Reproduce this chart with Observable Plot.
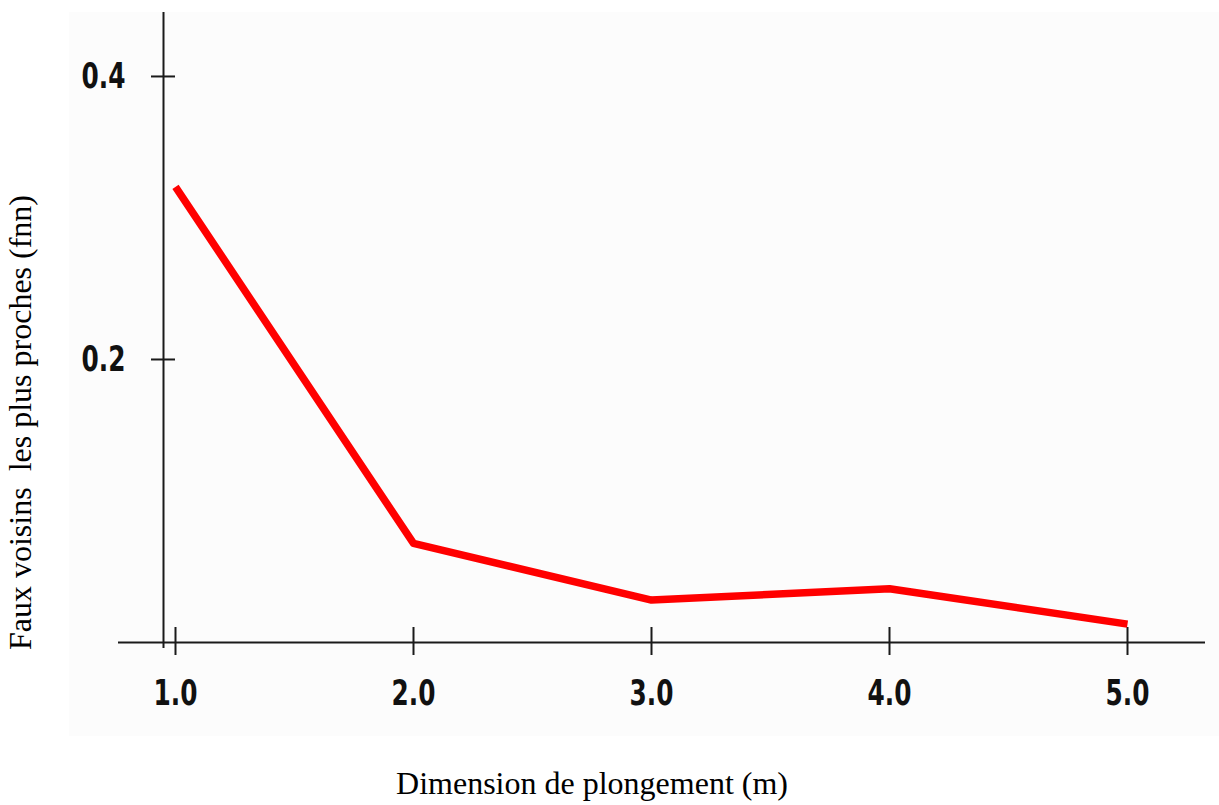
<!DOCTYPE html>
<html>
<head>
<meta charset="utf-8">
<script src="https://cdn.jsdelivr.net/npm/d3@7"></script>
<script src="https://cdn.jsdelivr.net/npm/@observablehq/plot@0.6"></script>
<style>
  html, body { margin: 0; padding: 0; background: #ffffff; }
  #chart svg { display: block; white-space: pre; }
</style>
</head>
<body>
<div id="chart"></div>
<script>
// ---- data ----
const dimensions = [1, 2, 3, 4, 5];
const fnnValues = [0.322, 0.070, 0.030, 0.038, 0.013];
const xTicks = [1, 2, 3, 4, 5];
const xTickLabels = ["1.0", "2.0", "3.0", "4.0", "5.0"];
const yTicks = [0.2, 0.4];
const yTickLabels = ["0.2", "0.4"];
const xTitle = "Dimension de plongement (m)";
const yTitle = "Faux voisins  les plus proches (fnn)";

const data = dimensions.map((d, i) => ({m: d, fnn: fnnValues[i]}));
const xTickData = xTicks.map((v, i) => ({v, label: xTickLabels[i]}));
const yTickData = yTicks.map((v, i) => ({v, label: yTickLabels[i]}));

const W = 1219, H = 805;
const mL = 118, mR = 14, mT = 12, mB = 157;
const xDomain = [0.7605, 5.3277];
const yDomain = [-0.00424, 0.4452];
const yAxisAt = 0.9496;   // position of vertical axis line (x units)
const tickFont = "'DejaVu Sans', sans-serif";
const titleFont = "'Liberation Serif', 'Times New Roman', serif";

const chart = Plot.plot({
  width: W,
  height: H,
  marginLeft: mL,
  marginRight: mR,
  marginTop: mT,
  marginBottom: mB,
  x: {domain: xDomain, axis: null},
  y: {domain: yDomain, axis: null},
  style: {background: "transparent", overflow: "visible"},
  marks: [
    // axis lines
    Plot.ruleY([0], {stroke: "#1a1a1a", strokeWidth: 2}),
    Plot.ruleX([yAxisAt], {stroke: "#1a1a1a", strokeWidth: 2}),
    // x ticks crossing the axis
    Plot.ruleX(xTickData, {x: "v", y1: -0.0092, y2: 0.0106, stroke: "#1a1a1a", strokeWidth: 2}),
    // y ticks crossing the axis
    Plot.ruleY(yTickData, {y: "v", x1: 0.8992, x2: 1.0, stroke: "#1a1a1a", strokeWidth: 2}),
    // x tick labels
    Plot.text(xTickData, {
      x: "v", text: "label", frameAnchor: "bottom", textAnchor: "middle", dy: 45, lineAnchor: "middle",
      fontSize: 36, fontWeight: "bold", fontFamily: tickFont, fill: "#111"
    }),
    // y tick labels
    Plot.text(yTickData, {
      y: "v", text: "label", frameAnchor: "left", dx: 7, textAnchor: "end", lineAnchor: "middle",
      fontSize: 36, fontWeight: "bold", fontFamily: tickFont, fill: "#111"
    }),
    // data line
    Plot.line(data, {
      x: "m", y: "fnn", stroke: "#ff0000", strokeWidth: 7.5,
      strokeLinejoin: "round", strokeLinecap: "butt"
    }),
    // axis titles
    Plot.text([xTitle], {
      text: d => d, frameAnchor: "bottom", textAnchor: "middle", dx: -70, dy: 145, lineAnchor: "bottom",
      fontSize: 32, fontFamily: titleFont, fill: "#000"
    }),
    Plot.text([yTitle], {
      text: d => d, frameAnchor: "left", textAnchor: "middle", rotate: -90, dx: -88, dy: 92, lineAnchor: "bottom",
      fontSize: 32, fontFamily: titleFont, fill: "#000"
    })
  ]
});

// condense the bold tick labels horizontally (narrow font look)
d3.select(chart).selectAll("g[font-weight='bold'] text").each(function() {
  const t = this.getAttribute("transform") || "";
  this.setAttribute("transform", t + " scale(0.69,1)");
});

// light gray panel behind the plot
d3.select(chart).insert("rect", ":first-child")
  .attr("x", 69).attr("y", 12).attr("width", W - 69).attr("height", 724)
  .attr("fill", "#fcfcfc");

document.getElementById("chart").appendChild(chart);
</script>
</body>
</html>
